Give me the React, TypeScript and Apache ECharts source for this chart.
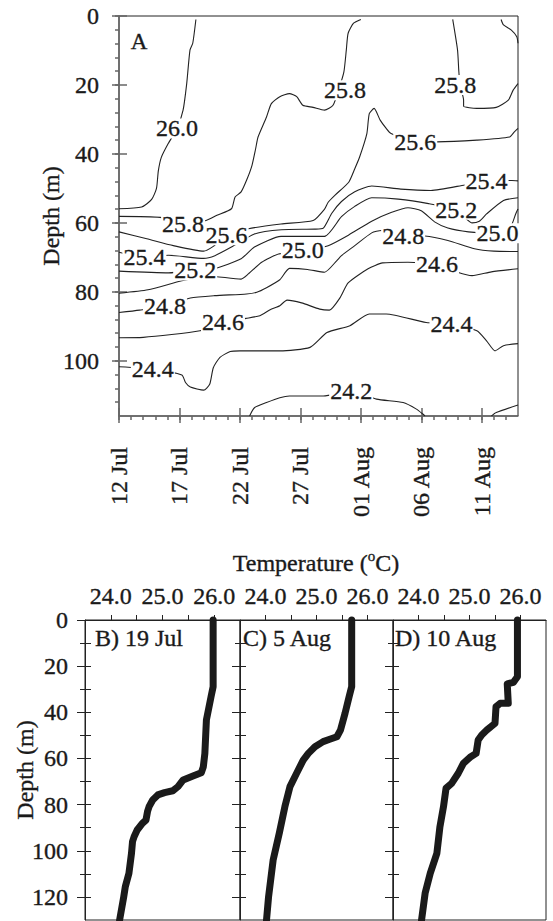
import React, { useEffect, useRef } from "react";
import * as echarts from "echarts";

const FONT = "Liberation Serif";
const INK = "#1a1a1a";

// ---- Panel A axes ----
const dayTicks = [0, 5, 10, 15, 20, 25, 30];
const dayLabels = ["12 Jul", "17 Jul", "22 Jul", "27 Jul", "01 Aug", "06 Aug", "11 Aug"];
const dayMinorTicks = [0, 1, 2, 3, 4, 5, 6, 7, 8, 9, 10, 11, 12, 13, 14, 15, 16, 17, 18, 19, 20, 21, 22, 23, 24, 25, 26, 27, 28, 29, 30, 31, 32];
const depthTicksA = [0, 20, 40, 60, 80, 100];
const depthMinorA = [0, 4, 8, 12, 16, 20, 24, 28, 32, 36, 40, 44, 48, 52, 56, 60, 64, 68, 72, 76, 80, 84, 88, 92, 96, 100, 104, 108, 112];

// ---- Panel A contour lines: [day since 12 Jul, depth m] ----
const c260 = [[0, 55.9], [1.87, 55.4], [2.7, 53.2], [3.1, 50], [3.25, 45], [3.5, 41], [4.07, 37], [4.8, 32.6], [5.3, 27.3], [5.6, 19.6], [5.87, 9.9], [6.1, 7.9], [6.36, 1]];
const c258a = [[0, 58.1], [3.4, 58.4], [5.3, 60.2], [7.2, 59.3], [8.1, 57.8], [9.3, 55.9], [9.6, 52.5], [10.1, 51], [10.6, 47.2], [11.0, 43.3], [11.3, 38.5], [11.5, 35.1], [12.2, 29.3], [12.6, 25.4], [13.3, 23.4], [14.1, 22.5], [14.7, 23.4], [15.2, 25.9], [16.05, 26.5], [17.0, 27.3], [17.7, 25.9], [18.2, 21], [18.6, 16.2], [18.8, 9.9], [18.95, 5], [19.4, 2.1], [20.0, 1]];
const c258b = [[27.6, 1], [28.0, 9.9], [28.1, 15.7], [28.2, 20], [28.5, 24.4], [28.5, 26.2], [29.6, 26.8], [31.2, 26.5], [32.2, 24.4], [32.6, 21.5], [33, 19.6]];
const c258c = [[31.6, 1], [31.8, 2.6], [32.45, 4.1], [32.9, 6], [33, 7.9]];
const c256 = [[0, 62.6], [2.3, 64.6], [4.5, 66.6], [7.0, 68.2], [7.8, 66.8], [8.9, 63.7], [10.7, 61.7], [13.4, 60.3], [16.06, 59.3], [17.0, 56], [17.3, 54], [17.85, 52], [19.0, 48.2], [19.5, 44.3], [19.9, 40.9], [20.5, 34.1], [20.7, 28.3], [21.1, 26.8], [21.6, 30.2], [22.1, 32.6], [22.5, 34.1], [24.5, 36.5], [26.3, 36.5], [29.6, 36], [32.3, 35.1], [32.7, 33.6], [33, 32.6]];
const c254 = [[0, 68.5], [2.1, 70], [4.1, 69.4], [7.0, 70.3], [7.93, 69.5], [9.3, 67], [11.2, 63.2], [13.44, 62], [16.2, 61.8], [16.9, 61.5], [17.6, 57.2], [18.4, 53.8], [19.5, 51], [20.9, 49.3], [23.3, 50.2], [25.8, 50.6], [28.6, 49], [30.4, 47.9], [32.5, 47.7], [33, 47.8]];
const c252 = [[0, 74], [4.1, 74.5], [6.3, 73.8], [7.9, 73.3], [10.1, 70.4], [11.2, 67], [13.4, 63.9], [17.0, 63.9], [18.4, 58.2], [19.5, 55.2], [20.9, 52.7], [23.1, 53.1], [25.6, 54.4], [27.9, 56.2], [28.7, 58.8], [29.2, 60], [29.8, 59.5], [30.4, 57.4], [31.8, 53.5], [33, 52.7]];
const c250 = [[0, 80.4], [2.4, 79.4], [5.2, 76.8], [7.4, 75.4], [10.1, 76.3], [10.7, 74.8], [11.8, 71.4], [13.2, 69], [15.2, 68.1], [17.3, 66.6], [19.0, 63.5], [20.9, 59.5], [22.5, 57], [23.9, 55.6], [25.0, 56.5], [26.1, 59.7], [27.2, 61.5], [28.9, 62.6], [31.2, 63.1], [32.4, 61], [32.8, 57.5], [33, 56]];
const c248 = [[0, 86], [1.7, 85.3], [3.8, 84.2], [5.9, 81.8], [7.9, 81.1], [10.55, 80.6], [11.4, 80.1], [12.2, 78.8], [13.3, 76.5], [14.1, 73.2], [15.6, 73.5], [17.0, 74.3], [18.0, 71], [18.4, 69.5], [19.5, 66.6], [20.9, 62.9], [21.7, 62.2], [23.5, 63.7], [25.3, 63.8], [27.2, 65.1], [29.4, 67.5], [31, 68.2], [33, 68.3]];
const c246 = [[0, 93.3], [2, 93.2], [6.7, 91.3], [8.6, 88.9], [10.5, 87.7], [11.65, 86.9], [12.5, 85.2], [13.3, 84], [13.9, 82.4], [15.1, 83.2], [16.6, 85], [17.4, 85.3], [18.3, 81.6], [18.95, 77.4], [20.6, 73.3], [21.8, 71.6], [23.9, 71.4], [26.3, 72], [28.0, 74.3], [29.2, 75.3], [30.8, 74.2], [33, 73.3]];
const c244 = [[0, 101.7], [2.8, 102.4], [5.2, 104.1], [5.5, 106.3], [5.9, 107.6], [7, 108.5], [7.5, 106.8], [7.8, 102], [8.35, 99], [9.2, 97.3], [10, 97.1], [13.3, 97.1], [15.8, 96.1], [17.2, 91.8], [19.1, 89.8], [20.7, 86.4], [22.1, 86.4], [25.4, 88.9], [27.5, 89.3], [29.6, 91.3], [30.4, 94.2], [31.1, 97.1], [31.8, 95.6], [33, 95]];
const c242a = [[10.8, 116], [11.2, 113.6], [12.2, 112.1], [13.3, 110.7], [14.1, 110.2], [16.9, 110.2], [19.2, 108.7], [21.3, 111.1], [23.5, 112.1], [24.6, 114], [25.15, 115.5], [25.3, 116]];
const c242b = [[30.8, 116], [31.2, 115], [33, 112.8]];
const contourLines = [c260, c258a, c258b, c258c, c256, c254, c252, c250, c248, c246, c244, c242a, c242b];

// contour labels: [day, depth, text]
const contourLabels: [number, number, string][] = [
  [4.8, 32.6, "26.0"], [5.3, 60.2, "25.8"], [18.7, 21.5, "25.8"], [27.8, 20.0, "25.8"],
  [8.9, 63.6, "25.6"], [24.5, 36.5, "25.6"], [2.1, 70.0, "25.4"], [30.4, 47.8, "25.4"],
  [6.3, 73.8, "25.2"], [27.9, 56.2, "25.2"], [15.2, 68.0, "25.0"], [31.3, 63.0, "25.0"],
  [3.8, 84.2, "24.8"], [23.5, 63.7, "24.8"], [8.6, 88.8, "24.6"], [26.3, 72.0, "24.6"],
  [2.8, 102.4, "24.4"], [27.5, 89.3, "24.4"], [19.2, 108.7, "24.2"],
];

// ---- Profile panels ----
const tempTicks = [24, 24.5, 25, 25.5, 26];
const tempLabelTicks = [24, 25, 26];
const depthTicksB = [0, 20, 40, 60, 80, 100, 120];
const depthMinorB = [10, 30, 50, 70, 90, 110];
const depthAllB = [0, 10, 20, 30, 40, 50, 60, 70, 80, 90, 100, 110, 120];

// [temperature °C, depth m]
const prof19Jul = [[25.98, 0], [25.98, 28.9], [25.94, 33.2], [25.85, 43.3], [25.82, 57.8], [25.79, 63.6], [25.75, 66.2], [25.59, 67.6], [25.4, 69.3], [25.3, 72.2], [25.2, 74], [25.04, 74.8], [24.91, 75.8], [24.81, 78], [24.74, 80.9], [24.71, 83], [24.68, 86.7], [24.61, 88.1], [24.51, 91], [24.45, 93.9], [24.42, 96], [24.4, 101.1], [24.35, 109.8], [24.28, 115.6], [24.25, 119.9], [24.17, 130]];
const prof5Aug = [[25.69, 0], [25.69, 28.9], [25.64, 33.2], [25.56, 40.4], [25.47, 47.7], [25.4, 50.6], [25.26, 51.7], [25.13, 52.7], [24.97, 54.9], [24.84, 57.8], [24.74, 60.7], [24.61, 66.4], [24.48, 72.2], [24.38, 80.9], [24.27, 92.4], [24.15, 104], [24.06, 120], [24.02, 130]];
const prof10Aug = [[25.94, 0], [25.94, 24.6], [25.86, 27], [25.74, 27.7], [25.76, 36.1], [25.6, 36.1], [25.52, 37.6], [25.5, 44.8], [25.34, 47.7], [25.24, 49.8], [25.17, 52], [25.13, 57.8], [25.01, 59.5], [24.88, 62.1], [24.78, 66.4], [24.65, 70.8], [24.54, 72.9], [24.49, 80.9], [24.42, 89.6], [24.36, 101.1], [24.23, 109.8], [24.13, 118.4], [24.06, 130]];
const profiles = [prof19Jul, prof5Aug, prof10Aug];
const profileTitles = ["B) 19 Jul", "C) 5 Aug", "D) 10 Aug"];

const STROKE = 0.35;
const textBase = {
  fontSize: 24, fontFamily: FONT, color: INK, fontWeight: "normal" as const,
  textBorderColor: INK, textBorderWidth: STROKE,
};

function buildOption() {
  const grey = { color: "#666", width: 1.5 };
  const black = { color: "#222", width: 1 };
  const grids: any[] = [
    { left: 119, top: 16, width: 399, height: 400, show: true, borderColor: "#222", borderWidth: 1, backgroundColor: "transparent" },
    { left: 85, top: 620, width: 155, height: 300, show: true, borderColor: "#222", borderWidth: 1, backgroundColor: "transparent" },
    { left: 240, top: 620, width: 153, height: 300, show: true, borderColor: "#222", borderWidth: 1, backgroundColor: "transparent" },
    { left: 393, top: 620, width: 153, height: 300, show: true, borderColor: "#222", borderWidth: 1, backgroundColor: "transparent" },
  ];
  const baseX = { type: "value", min: 0, max: 33, position: "bottom", splitLine: { show: false } };
  const xAxis: any[] = [
    {
      ...baseX, gridIndex: 0,
      axisLine: { show: true, onZero: false, lineStyle: grey },
      axisTick: { show: true, customValues: dayTicks, length: 7, lineStyle: grey },
      axisLabel: {
        show: true, customValues: dayTicks, rotate: 90, margin: 31, ...textBase,
        formatter: (v: number) => { const i = dayTicks.indexOf(v); return i >= 0 ? dayLabels[i] : ""; },
      },
    },
    { ...baseX, gridIndex: 0, axisLine: { show: false, onZero: false }, axisTick: { show: true, inside: true, customValues: dayTicks, length: 8, lineStyle: grey }, axisLabel: { show: false } },
    { ...baseX, gridIndex: 0, axisLine: { show: false, onZero: false }, axisTick: { show: true, customValues: dayMinorTicks, length: 4, lineStyle: grey }, axisLabel: { show: false } },
  ];
  const baseY = { type: "value", min: 0, max: 116, inverse: true, position: "left", splitLine: { show: false } };
  const yAxis: any[] = [
    {
      ...baseY, gridIndex: 0,
      axisLine: { show: true, onZero: false, lineStyle: grey },
      axisTick: { show: true, customValues: depthTicksA, length: 7, lineStyle: grey },
      axisLabel: { show: true, customValues: depthTicksA, margin: 20, ...textBase, formatter: (v: number) => String(v) },
    },
    { ...baseY, gridIndex: 0, axisLine: { show: false, onZero: false }, axisTick: { show: true, inside: true, customValues: depthTicksA, length: 8, lineStyle: grey }, axisLabel: { show: false } },
    { ...baseY, gridIndex: 0, axisLine: { show: false, onZero: false }, axisTick: { show: true, customValues: depthMinorA, length: 4, lineStyle: grey }, axisLabel: { show: false } },
  ];
  const series: any[] = [];
  contourLines.forEach((pts) => {
    series.push({
      type: "line", xAxisIndex: 0, yAxisIndex: 0, data: pts, showSymbol: false, symbol: "none",
      smooth: 0.2, lineStyle: { color: "#222", width: 1.1 }, z: 2, silent: true,
    });
  });
  series.push({
    type: "scatter", xAxisIndex: 0, yAxisIndex: 0, symbol: "rect", symbolSize: 1,
    itemStyle: { color: "rgba(0,0,0,0)", opacity: 1 }, z: 5, silent: true,
    data: contourLabels.map(([d, z, t]) => ({ value: [d, z], name: t })),
    label: { show: true, position: "inside", formatter: "{b}", ...textBase, opacity: 1, backgroundColor: "#fff", padding: [0, 1, 0, 1], lineHeight: 20 },
  });

  for (let p = 0; p < 3; p++) {
    const g = p + 1;
    xAxis.push({
      type: "value", gridIndex: g, min: 23.5, max: 26.5, position: "top", splitLine: { show: false },
      axisLine: { show: true, onZero: false, lineStyle: black },
      axisTick: { show: true, customValues: tempTicks, length: 5, lineStyle: black },
      axisLabel: { show: true, customValues: tempLabelTicks, margin: 12, ...textBase, formatter: (v: number) => v.toFixed(1) },
    });
    const by = { type: "value", gridIndex: g, min: 0, max: 130, inverse: true, position: "left", splitLine: { show: false } };
    yAxis.push({
      ...by,
      axisLine: { show: true, onZero: false, lineStyle: black },
      axisTick: { show: true, customValues: depthTicksB, length: 8, lineStyle: black },
      axisLabel: { show: p === 0, customValues: depthTicksB, margin: 17, ...textBase, formatter: (v: number) => String(v) },
    });
    yAxis.push({ ...by, axisLine: { show: false, onZero: false }, axisTick: { show: true, customValues: depthMinorB, length: 5, lineStyle: black }, axisLabel: { show: false } });
    yAxis.push({ ...by, axisLine: { show: false, onZero: false }, axisTick: { show: true, inside: true, customValues: depthAllB, length: 6, lineStyle: black }, axisLabel: { show: false } });
    series.push({
      type: "line", xAxisIndex: 3 + p, yAxisIndex: 3 + p * 3, data: profiles[p], showSymbol: false, symbol: "none",
      clip: false, lineStyle: { color: INK, width: 7, cap: "round", join: "round" }, z: 3, silent: true,
    });
  }

  const tstyle = (extra: any) => ({ fontSize: 24, fontFamily: FONT, fill: INK, stroke: INK, lineWidth: STROKE, ...extra });
  const graphic: any[] = [
    { type: "text", x: 139, y: 41, style: tstyle({ text: "A", fontSize: 23, align: "center", verticalAlign: "middle" }) },
    { type: "text", x: 51, y: 216, rotation: Math.PI / 2, style: tstyle({ text: "Depth (m)", align: "center", verticalAlign: "middle" }) },
    { type: "text", x: 25, y: 770, rotation: Math.PI / 2, style: tstyle({ text: "Depth (m)", align: "center", verticalAlign: "middle" }) },
    {
      type: "text", x: 316, y: 563,
      style: {
        text: "{t|Temperature (}{s|o}{t|C)}", align: "center", verticalAlign: "middle",
        rich: {
          t: { fontSize: 24, fontFamily: FONT, fill: INK, stroke: INK, lineWidth: STROKE, lineHeight: 30 },
          s: { fontSize: 15, fontFamily: FONT, fill: INK, stroke: INK, lineWidth: STROKE, lineHeight: 15, verticalAlign: "top" },
        },
      },
    },
    { type: "text", x: 95, y: 638, style: tstyle({ text: profileTitles[0], align: "left", verticalAlign: "middle" }) },
    { type: "text", x: 243, y: 638, style: tstyle({ text: profileTitles[1], align: "left", verticalAlign: "middle" }) },
    { type: "text", x: 395, y: 638, style: tstyle({ text: profileTitles[2], align: "left", verticalAlign: "middle" }) },
  ];

  return {
    animation: false, backgroundColor: "#fff",
    textStyle: { fontFamily: FONT, fontSize: 24, color: INK },
    grid: grids, xAxis, yAxis, series, graphic,
  };
}

export default function App() {
  const ref = useRef<HTMLDivElement>(null);
  useEffect(() => {
    if (!ref.current) return;
    const chart = echarts.init(ref.current, undefined, { renderer: "svg" });
    chart.setOption(buildOption() as any);
    return () => chart.dispose();
  }, []);
  return <div ref={ref} style={{ position: "absolute", left: 0, top: 0, width: 553, height: 921 }} />;
}
